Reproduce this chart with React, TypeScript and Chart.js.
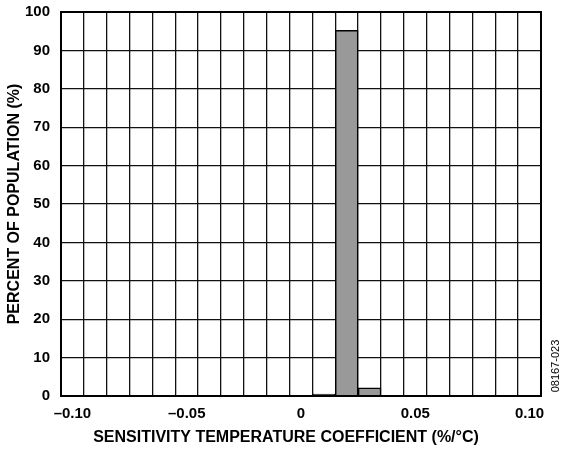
import React, { useEffect, useRef } from "react";
import { Chart, registerables } from "chart.js";

Chart.register(...registerables);

const categories = [
  "–0.10", "–0.09", "–0.08", "–0.07", "–0.06", "–0.05", "–0.04", "–0.03", "–0.02", "–0.01",
  "0", "0.01", "0.02", "0.03", "0.04", "0.05", "0.06", "0.07", "0.08", "0.09", "0.10",
];
const percentValues = [0, 0, 0, 0, 0, 0, 0, 0, 0, 0, 0.1, 0.5, 95.2, 2.1, 0, 0, 0, 0, 0, 0, 0];
const shownTickLabels = ["–0.10", "–0.05", "0", "0.05", "0.10"];
const xTitle = "SENSITIVITY TEMPERATURE COEFFICIENT (%/°C)";
const yTitle = "PERCENT OF POPULATION (%)";
const figureId = "08167-023";

const FONT = '"Liberation Sans", Arial, sans-serif';

const extrasPlugin = {
  id: "extras",
  afterDraw(chart: any) {
    const { ctx, chartArea: a } = chart;
    ctx.save();
    ctx.strokeStyle = "#000";
    ctx.lineWidth = 2;
    ctx.strokeRect(a.left, a.top, a.right - a.left, a.bottom - a.top);
    ctx.fillStyle = "#000";
    ctx.textAlign = "center";
    ctx.textBaseline = "middle";
    ctx.font = `bold 16px ${FONT}`;
    ctx.fillText(xTitle, 286, 438);
    ctx.save();
    ctx.translate(15, (a.top + a.bottom) / 2);
    ctx.rotate(-Math.PI / 2);
    ctx.fillText(yTitle, 0, 0);
    ctx.restore();
    ctx.save();
    ctx.font = `11px ${FONT}`;
    ctx.translate(556, 366);
    ctx.rotate(-Math.PI / 2);
    ctx.fillText(figureId, 0, 0);
    ctx.restore();
    ctx.restore();
  },
};

export default function App() {
  const ref = useRef<HTMLCanvasElement>(null);
  useEffect(() => {
    if (!ref.current) return;
    const chart = new Chart(ref.current, {
      type: "bar",
      data: {
        labels: categories,
        datasets: [
          {
            data: percentValues,
            backgroundColor: "#999999",
            borderColor: "#000000",
            borderWidth: 1.5,
            barPercentage: 1,
            categoryPercentage: 1,
          },
        ],
      },
      options: {
        animation: false,
        responsive: true,
        maintainAspectRatio: false,
        layout: { padding: { top: 12, right: 22, left: 0, bottom: 0 } },
        plugins: { legend: { display: false }, tooltip: { enabled: false } },
        scales: {
          x: {
            grid: { color: "#111", lineWidth: 1.3, drawTicks: false, offset: true },
            border: { color: "#000", width: 2 },
            ticks: {
              autoSkip: false,
              maxRotation: 0,
              padding: 9,
              color: "#000",
              font: { family: FONT, size: 15, weight: "bold" },
              callback: (_v: any, i: number) =>
                shownTickLabels.includes(categories[i]) ? categories[i] : "",
            },
            afterFit: (s: any) => {
              s.height = 57;
              s.paddingLeft = 0;
              s.paddingRight = 0;
            },
          },
          y: {
            min: 0,
            max: 100,
            grid: { color: "#111", lineWidth: 1.3, drawTicks: false },
            border: { color: "#000", width: 2 },
            ticks: {
              stepSize: 10,
              padding: 11,
              color: "#000",
              font: { family: FONT, size: 15, weight: "bold" },
            },
            afterFit: (s: any) => {
              s.width = 61;
              s.paddingTop = 0;
              s.paddingBottom = 0;
            },
          },
        },
      },
      plugins: [extrasPlugin],
    });
    return () => chart.destroy();
  }, []);
  return (
    <div style={{ position: "fixed", left: 0, top: 0, width: 563, height: 453 }}>
      <canvas ref={ref} />
    </div>
  );
}
